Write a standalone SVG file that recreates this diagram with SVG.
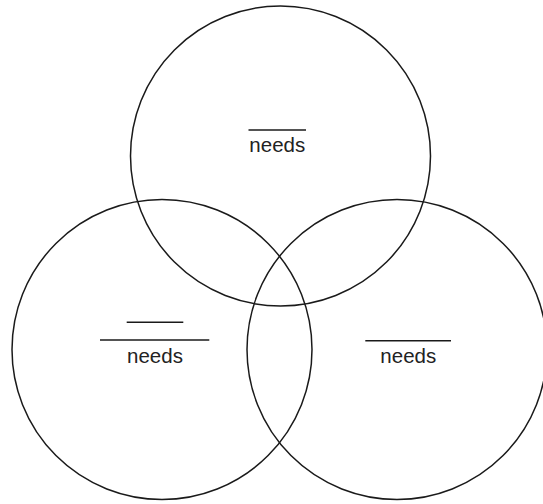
<svg xmlns="http://www.w3.org/2000/svg" width="543" height="504" viewBox="0 0 543 504">
<style>
.c{fill:none;stroke:#1a1a1a;stroke-width:1.5}
.l{stroke:#1a1a1a;stroke-width:1.5}
.t{font-family:"Liberation Sans",Arial,sans-serif;font-size:20.5px;fill:#222;text-anchor:middle}
</style>
<rect width="543" height="504" fill="#fff"/>
<g id="top">
<circle class="c" cx="280.5" cy="156" r="150"/>
<line class="l" x1="248.5" y1="130" x2="306" y2="130"/>
<text class="t" x="277.3" y="151.7">needs</text>
</g>
<g id="left">
<circle class="c" cx="162" cy="349.5" r="150"/>
<line class="l" x1="126.7" y1="322.3" x2="183.3" y2="322.3"/>
<line class="l" x1="100" y1="340" x2="209.3" y2="340"/>
<text class="t" x="155" y="362.7">needs</text>
</g>
<g id="right">
<circle class="c" cx="397" cy="349.5" r="150"/>
<line class="l" x1="365.3" y1="340.7" x2="451" y2="340.7"/>
<text class="t" x="408.3" y="362.7">needs</text>
</g>
<g id="connectors"/>
</svg>
